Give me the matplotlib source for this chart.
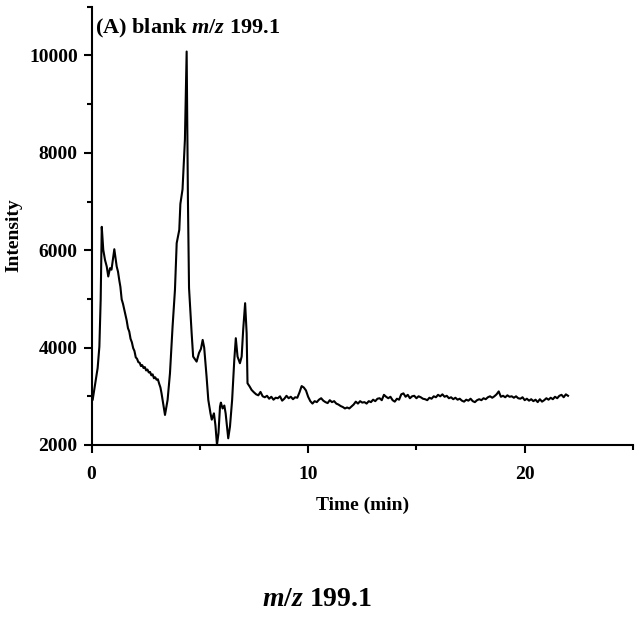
import numpy as np
import matplotlib
matplotlib.use('Agg')
import matplotlib.pyplot as plt
from matplotlib.ticker import MultipleLocator

plt.rcParams['font.family'] = ['Liberation Serif', 'DejaVu Serif']
plt.rcParams['font.weight'] = 'bold'
plt.rcParams['mathtext.fontset'] = 'custom'
plt.rcParams['mathtext.it'] = 'Liberation Serif:italic:bold'
plt.rcParams['mathtext.rm'] = 'Liberation Serif:bold'

# chromatogram: peak region (irregular times)
peak_time = [0.0, 0.05, 0.16, 0.28, 0.36, 0.42, 0.47, 0.54, 0.62, 0.70, 0.77, 0.85,
             0.92, 0.97, 1.05, 1.16, 1.22, 1.28, 1.33, 1.39, 1.45, 1.50, 1.56, 1.62,
             1.68, 1.74, 1.80, 1.86, 1.92, 1.98, 2.04, 2.10, 2.16, 2.22, 2.28, 2.34,
             2.40, 2.46, 2.52, 2.58, 2.64, 2.70, 2.76, 2.82, 2.88, 2.94, 3.00, 3.06,
             3.12, 3.18, 3.23, 3.39, 3.51, 3.62, 3.74, 3.85,
             3.93, 4.05, 4.10, 4.20, 4.31, 4.39, 4.45, 4.50, 4.62, 4.69, 4.85, 4.96,
             5.05, 5.13, 5.20, 5.31, 5.39, 5.49, 5.55, 5.65, 5.72, 5.79, 5.86, 5.93,
             5.97, 6.05, 6.13, 6.19, 6.31, 6.39, 6.49, 6.59, 6.66, 6.74, 6.85, 6.93,
             7.00, 7.09, 7.16, 7.20, 7.30, 7.39]
peak_intensity = [2900, 2925, 3233, 3580, 4020, 4980, 6480, 6007, 5800, 5665, 5460, 5630,
                  5600, 5767, 6020, 5665, 5560, 5380, 5250, 4990, 4900, 4800, 4690, 4560,
                  4400, 4330, 4180, 4110, 3990, 3930, 3800, 3770, 3700, 3690, 3620, 3640,
                  3580, 3600, 3530, 3550, 3490, 3500, 3430, 3450, 3370, 3390, 3340, 3350,
                  3260, 3180, 3062, 2617, 2925, 3473, 4431, 5185,
                  6145, 6418, 6950, 7250, 8270, 10080, 7000, 5226, 4300, 3815, 3712, 3890,
                  3973, 4158, 4000, 3404, 2925, 2650, 2520, 2650, 2400, 2000, 2240, 2787,
                  2870, 2750, 2810, 2650, 2137, 2376, 2925, 3747, 4193, 3815, 3679, 3815,
                  4363, 4912, 4295, 3268, 3200, 3130]

# baseline region, sampled every 0.1 min from 7.5 min
base_start = 7.5
base_step = 0.1
base_intensity = [3080, 3040, 3020, 3090, 3000, 2980, 3010, 2950, 2990, 2930,
                  2970, 2960, 3000, 2910, 2950, 3010, 2960, 2990, 2940, 2980,
                  2970, 3080, 3210, 3180, 3120, 2990, 2900, 2850, 2900, 2880,
                  2930, 2960, 2910, 2880, 2860, 2920, 2880, 2900, 2850, 2830,
                  2800, 2780, 2750, 2770, 2750, 2790, 2830, 2890, 2850, 2900,
                  2870, 2880, 2850, 2900, 2880, 2930, 2900, 2950, 2960, 2920,
                  3030, 2990, 2960, 2990, 2920, 2890, 2950, 2930, 3040, 3060,
                  2990, 3030, 2960, 3000, 3010, 2960, 3000, 2980, 2950, 2940,
                  2920, 2970, 2950, 3000, 2980, 3030, 3000, 3040, 2990, 3010,
                  2960, 2980, 2940, 2970, 2930, 2950, 2910, 2890, 2930, 2910,
                  2950, 2900, 2880, 2920, 2940, 2920, 2960, 2940, 2980, 3000,
                  2970, 3000, 3040, 3100, 2990, 3010, 2980, 3020, 2990, 3000,
                  2970, 3000, 2960, 2950, 2980, 2920, 2950, 2910, 2940, 2900,
                  2930, 2880, 2940, 2890, 2920, 2960, 2930, 2970, 2940, 2990,
                  2960, 3010, 3030, 2980, 3040, 3010]
base_time = base_start + base_step * np.arange(len(base_intensity))

time = np.concatenate([peak_time, base_time])
intensity = np.concatenate([peak_intensity, base_intensity])

fig = plt.figure(figsize=(6.44, 6.17), dpi=100)
ax = fig.add_axes([0.1422, 0.2788, 0.8407, 0.7103])
ax.plot(time, intensity, color='black', linewidth=1.5)

ax.set_xlim(0, 25)
ax.set_ylim(2000, 11000)
ax.xaxis.set_major_locator(MultipleLocator(10))
ax.xaxis.set_minor_locator(MultipleLocator(5))
ax.yaxis.set_major_locator(MultipleLocator(2000))
ax.yaxis.set_minor_locator(MultipleLocator(1000))

for side in ['top', 'right']:
    ax.spines[side].set_visible(False)
for side in ['left', 'bottom']:
    ax.spines[side].set_linewidth(1.5)

ax.tick_params(which='major', direction='out', length=6, width=1.5, labelsize=14, pad=4)
ax.tick_params(which='minor', direction='out', length=3.5, width=1.5)
ax.tick_params(axis='x', which='major', pad=9)

ax.set_xlabel('Time (min)', fontsize=14, fontweight='bold')
ax.xaxis.set_label_coords(0.5, -0.119)
ax.set_ylabel('Intensity', fontsize=14, fontweight='bold')
ax.yaxis.set_label_coords(-0.127, 0.479)

ax.text(0.006, 0.94, '(A) blank $m/z$ 199.1', transform=ax.transAxes,
        fontsize=16, fontweight='bold', ha='left', va='baseline')

fig.text(0.493, 0.018, '$m/z$ 199.1', fontsize=20, fontweight='bold',
         ha='center', va='baseline')

fig.savefig('out.png', dpi=100)
